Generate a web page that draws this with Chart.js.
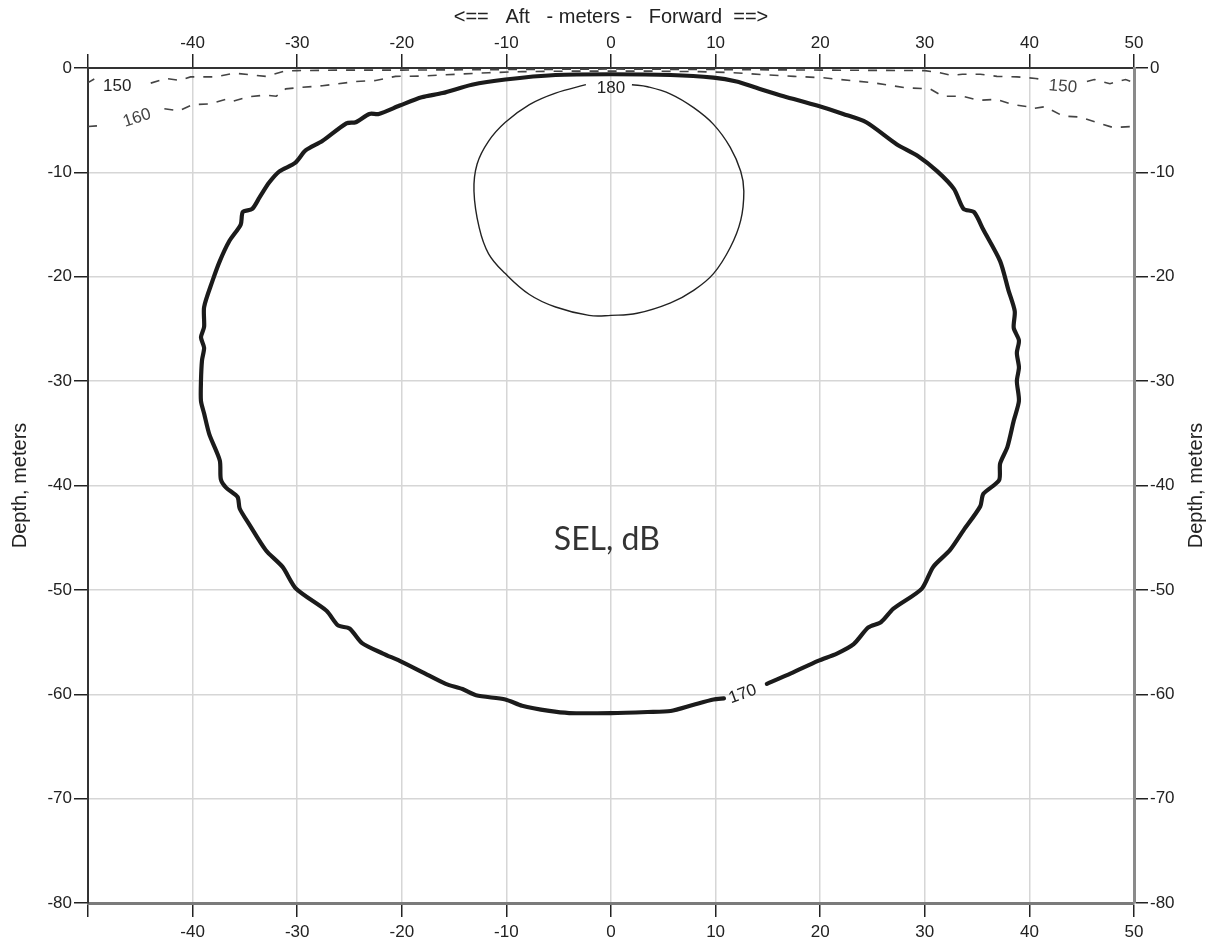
<!DOCTYPE html>
<html>
<head>
<meta charset="utf-8">
<script src="https://cdn.jsdelivr.net/npm/chart.js@4.4.1/dist/chart.umd.min.js"></script>
<style>
  html, body { margin: 0; padding: 0; background: #fff; }
  #wrap { width: 1224px; height: 944px; position: relative; }
</style>
</head>
<body>
<div id="wrap"><canvas id="selChart"></canvas></div>
<script>
// axis ticks (meters)
const xTickValues = [-50, -40, -30, -20, -10, 0, 10, 20, 30, 40, 50]
const yTickValues = [0, -10, -20, -30, -40, -50, -60, -70, -80]

// 170 dB contour (thick), starts/ends at the label gap
const sel170X = [14.9, 17.2, 19.8, 21.6, 23.2, 24.6, 25.8, 27.0, 29.7, 30.8, 32.4, 33.7, 35.3, 35.6, 37.1, 37.2, 37.9, 38.5, 39.0, 38.8, 39.0, 38.8, 39.0, 38.5, 38.6, 38.0, 37.2, 35.6, 34.7, 33.7, 32.8, 31.2, 29.3, 27.3, 24.4, 22.2, 19.7, 16.5, 13.9, 12.0, 9.8, 5.7, 0,
  -5.3, -10.1, -13.3, -16.1, -18.1, -20.2, -22.2, -23.1, -24.4, -25.3, -27.6, -29.2, -30.2, -31.7, -32.7, -33.6, -34.3, -35.2, -35.4, -36.5, -37.4, -38.1, -38.9, -38.9, -39.2, -38.9, -39.1, -39.2, -39.2, -38.9, -38.4, -37.4, -37.3, -36.8, -35.7, -35.5, -34.6, -33.0, -31.4, -30.1, -27.2, -26.1, -25.0, -23.8, -21.8, -20.2, -18.0, -15.8, -14.2, -12.9, -10.1, -8.5, -5.9, -4.0, 0,
  3.5, 5.7, 7.9, 9.8, 10.8]
const sel170Y = [-59.0, -58.0, -56.8, -56.1, -55.2, -53.6, -53.1, -51.8, -49.9, -47.8, -46.2, -44.3, -42.0, -40.8, -39.5, -37.9, -36.3, -33.8, -31.9, -30.0, -28.7, -27.3, -26.1, -24.9, -23.3, -21.3, -18.5, -15.5, -13.8, -13.5, -11.6, -9.9, -8.4, -7.3, -5.2, -4.4, -3.6, -2.7, -1.9, -1.3, -0.93, -0.67, -0.6,
  -0.67, -1.1, -1.6, -2.4, -2.8, -3.6, -4.4, -4.4, -5.2, -5.3, -7.0, -7.9, -9.1, -9.9, -11.0, -12.4, -13.5, -13.8, -15.0, -16.6, -18.5, -20.4, -22.9, -24.8, -25.8, -26.8, -28.0, -30.0, -31.9, -33.1, -35.1, -37.6, -39.4, -40.2, -41.1, -42.2, -43.7, -46.2, -47.8, -49.9, -52.0, -53.4, -53.7, -55.1, -56.1, -56.8, -57.9, -59.0, -59.5, -60.1, -60.5, -61.1, -61.6, -61.8, -61.8,
  -61.7, -61.6, -61.0, -60.5, -60.4]

// 180 dB contour (thin loop)
const sel180X = [2.0, 3.5, 5.7, 7.9, 9.8, 11.4, 12.4, 12.7, 12.4, 11.4, 9.8, 7.9, 5.7, 2.5, 0, -2.1, -5.3, -7.8, -10.1, -11.7, -12.6, -13.1, -12.8, -11.7, -10.1, -7.8, -5.3, -2.4]
const sel180Y = [-1.6, -1.8, -2.5, -3.8, -5.4, -7.6, -9.9, -11.8, -14.6, -17.2, -19.7, -21.3, -22.5, -23.5, -23.7, -23.7, -22.9, -21.7, -19.7, -17.8, -15.3, -11.8, -9.2, -7.0, -5.2, -3.5, -2.4, -1.6]

// 160 dB contour (dashed), null = label gap
const sel160X = [-50, -48.5, null, -42.7, -41.3, -40, -38.4, -36.8, -36.2, -34.6, -33.0, -32.0, -31.1, -30.1, -27.6, -24.4, -22.5, -20.6, -18.0, -14.8, -11.7, -8.5, -4, 0, 4, 8.5, 11.7, 14.8, 17.5, 20.2, 23.4, 25.0, 28.2, 30.5, 31.7, 33.6, 35.2, 36.8, 38.4, 39.8, 40.3, 41.5, 43.2, 44.8, 46.4, 48.0, 50]
const sel160Y = [-5.6, -5.5, null, -3.9, -4.1, -3.5, -3.45, -3.0, -3.2, -2.75, -2.6, -2.7, -2.0, -1.9, -1.7, -1.3, -1.2, -0.8, -0.77, -0.6, -0.45, -0.35, -0.3, -0.3, -0.3, -0.35, -0.45, -0.65, -0.8, -0.93, -1.25, -1.4, -1.9, -2.0, -2.7, -2.7, -3.1, -3.0, -3.5, -3.7, -3.9, -3.7, -4.6, -4.7, -5.2, -5.7, -5.6]

// 150 dB contour (dashed), null = label gap
const sel150X = [-50, -49.4, null, -44.0, -42.5, -41.2, -40.2, -37.8, -36.0, -34.5, -33.0, -31.2, -30.0, -26, -20, -10, 0, 10, 20, 30, 31.4, 32.5, 33.6, 35.3, 36.9, 38.8, 40.6, 41.2, null, 45.5, 46.2, 47.7, 49.2, 50]
const sel150Y = [-1.4, -1.05, null, -1.45, -1.0, -1.2, -0.85, -0.85, -0.5, -0.65, -0.8, -0.3, -0.25, -0.2, -0.2, -0.15, -0.1, -0.15, -0.2, -0.25, -0.45, -0.7, -0.6, -0.6, -0.8, -0.85, -1.0, -1.1, null, -1.3, -1.1, -1.5, -1.1, -1.4]

// contour labels
const labelText = ['150', '160', '180', '170', '150']
const labelX = [-47.2, -45.3, 0, 12.6, 43.2]
const labelY = [-1.75, -4.8, -1.9, -60.0, -1.8]
const labelAngle = [0, -18, 0, -20, 5]

const toPoints = (xs, ys) => xs.map((x, i) => ({ x: x, y: ys[i] }))

const FONT = "'Liberation Sans', Arial, sans-serif"

const contourText = {
  id: 'contourText',
  afterDatasetsDraw(chart) {
    const ctx = chart.ctx
    const sx = chart.scales.x
    const sy = chart.scales.y
    ctx.save()
    ctx.textAlign = 'center'
    ctx.textBaseline = 'middle'
    labelText.forEach((t, i) => {
      ctx.save()
      ctx.translate(sx.getPixelForValue(labelX[i]), sy.getPixelForValue(labelY[i]))
      ctx.rotate(labelAngle[i] * Math.PI / 180)
      ctx.font = '17px ' + FONT
      ctx.fillStyle = i === 1 || i === 4 ? '#444' : '#222'
      ctx.fillText(t, 0, 0)
      ctx.restore()
    })
    // center annotation
    ctx.font = '32px Lato, sans-serif'
    ctx.fillStyle = '#333'
    ctx.fillText('SEL, dB', sx.getPixelForValue(-0.4), sy.getPixelForValue(-45.2))
    // right-hand axis title, reads bottom to top like the left one
    const r = chart.scales.y2
    ctx.translate(r.right - 28, (chart.chartArea.top + chart.chartArea.bottom) / 2)
    ctx.rotate(-Math.PI / 2)
    ctx.font = '20px ' + FONT
    ctx.fillStyle = '#222'
    ctx.fillText('Depth, meters', 0, 0)
    ctx.restore()
  }
}

const tickFont = { family: FONT, size: 17 }
const gridBase = { color: '#d6d6d6', lineWidth: 1.5, tickColor: '#222', tickLength: 14, tickWidth: 1.5 }
const setXTicks = s => { s.ticks = xTickValues.map(v => ({ value: v })) }
const setYTicks = s => { s.ticks = yTickValues.map(v => ({ value: v })) }
const xLabel = v => v === -50 ? '' : v

new Chart(document.getElementById('selChart'), {
  type: 'scatter',
  data: {
    datasets: [
      { data: toPoints(sel170X, sel170Y), showLine: true, borderColor: '#1b1b1b', borderWidth: 4.2, tension: 0.25, borderJoinStyle: 'round', borderCapStyle: 'round', pointRadius: 0 },
      { data: toPoints(sel180X, sel180Y), showLine: true, borderColor: '#222', borderWidth: 1.4, tension: 0.4, pointRadius: 0 },
      { data: toPoints(sel160X, sel160Y), showLine: true, borderColor: '#444', borderWidth: 1.6, borderDash: [9, 9], tension: 0, pointRadius: 0 },
      { data: toPoints(sel150X, sel150Y), showLine: true, borderColor: '#444', borderWidth: 1.6, borderDash: [9, 9], tension: 0, pointRadius: 0 }
    ]
  },
  options: {
    responsive: true,
    maintainAspectRatio: false,
    animation: false,
    layout: { padding: 0 },
    plugins: { legend: { display: false }, tooltip: { enabled: false } },
    scales: {
      x: {
        type: 'linear', position: 'bottom', min: -50, max: 50,
        afterBuildTicks: setXTicks,
        afterFit: s => { s.height = 41 },
        ticks: { callback: xLabel, font: tickFont, color: '#222', padding: 5, maxRotation: 0, autoSkip: false },
        grid: gridBase,
        border: { color: '#7a7a7a', width: 3 }
      },
      x2: {
        type: 'linear', position: 'top', min: -50, max: 50,
        afterBuildTicks: setXTicks,
        afterFit: s => { s.height = 68 },
        ticks: { callback: xLabel, font: tickFont, color: '#222', padding: 0, maxRotation: 0, autoSkip: false },
        grid: Object.assign({}, gridBase, { drawOnChartArea: false }),
        border: { color: '#333', width: 2 },
        title: { display: true, text: '<==   Aft   - meters -   Forward  ==>', font: { family: FONT, size: 20 }, color: '#222', padding: { top: 5, bottom: 0 } }
      },
      y: {
        type: 'linear', position: 'left', min: -80, max: 0,
        afterBuildTicks: setYTicks,
        afterFit: s => { s.width = 88 },
        ticks: { font: tickFont, color: '#222', padding: 2 },
        grid: gridBase,
        border: { color: '#333', width: 2 },
        title: { display: true, text: 'Depth, meters', font: { family: FONT, size: 20 }, color: '#222', padding: { top: 8, bottom: 0 } }
      },
      y2: {
        type: 'linear', position: 'right', min: -80, max: 0,
        afterBuildTicks: setYTicks,
        afterFit: s => { s.width = 90 },
        ticks: { font: tickFont, color: '#222', padding: 2 },
        grid: Object.assign({}, gridBase, { drawOnChartArea: false }),
        border: { color: '#8a8a8a', width: 3 }
      }
    }
  },
  plugins: [contourText]
})
</script>
</body>
</html>
